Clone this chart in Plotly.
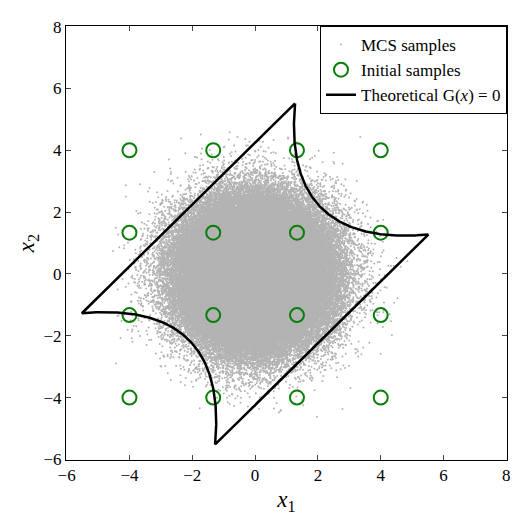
import numpy as np
import plotly.graph_objects as go

# Initial samples grid
grid_levels = [-4.0, -1.333, 1.333, 4.0]
init_x1 = [a for a in grid_levels for b in grid_levels]
init_x2 = [b for a in grid_levels for b in grid_levels]

# MCS samples (standard normal)
n_mcs = 150000
rng = np.random.default_rng(1)
mcs = rng.standard_normal((n_mcs, 2)) * 1.1

# Theoretical limit state: four-branch series system
c = 6 / np.sqrt(2)
u = np.linspace(-c, c, 200)
v_up = np.sqrt(2) * (3 + u**2 / 10)
v_dn = -v_up
uu = np.concatenate([u, u[::-1], [u[0]]])
vv = np.concatenate([v_up, v_dn[::-1], [v_up[0]]])
g_x1 = (uu + vv) / 2
g_x2 = (vv - uu) / 2

serif = "Liberation Serif, Times New Roman, serif"
fig = go.Figure()
fig.add_trace(go.Scatter(x=mcs[:, 0], y=mcs[:, 1], mode="markers",
                         marker=dict(color="#b3b3b3", size=2), name="MCS samples"))
fig.add_trace(go.Scatter(x=init_x1, y=init_x2, mode="markers",
                         marker=dict(symbol="circle-open", color="#0a7d0a", size=14, line=dict(width=2)),
                         name="Initial samples"))
fig.add_trace(go.Scatter(x=g_x1, y=g_x2, mode="lines", line=dict(color="black", width=2.5),
                         name="Theoretical G(<i>x</i>) = 0"))

ax = dict(range=[-6.02, 8.02], tickvals=[-6, -4, -2, 0, 2, 4, 6, 8], ticks="inside", ticklen=5,
          showgrid=False, zeroline=False,
          showline=True, linecolor="black", linewidth=1, mirror="ticks",
          tickfont=dict(size=17, color="black", family=serif))
fig.update_layout(
    width=520, height=531, plot_bgcolor="white", paper_bgcolor="white",
    font=dict(family=serif, color="black"),
    margin=dict(l=58, r=21, t=10, b=79),
    xaxis={**ax, "title": dict(text="<i>x</i><sub>1</sub>", font=dict(size=23, family=serif), standoff=6)},
    yaxis={**ax, "title": dict(text="<i>x</i><sub>2</sub>", font=dict(size=23, family=serif), standoff=2)},
    legend=dict(x=1, y=1, xanchor="right", yanchor="top", bgcolor="white",
                bordercolor="black", borderwidth=1, font=dict(size=17, family=serif),
                itemsizing="trace", tracegroupgap=0),
    showlegend=True,
)
fig.write_html("out.html")
